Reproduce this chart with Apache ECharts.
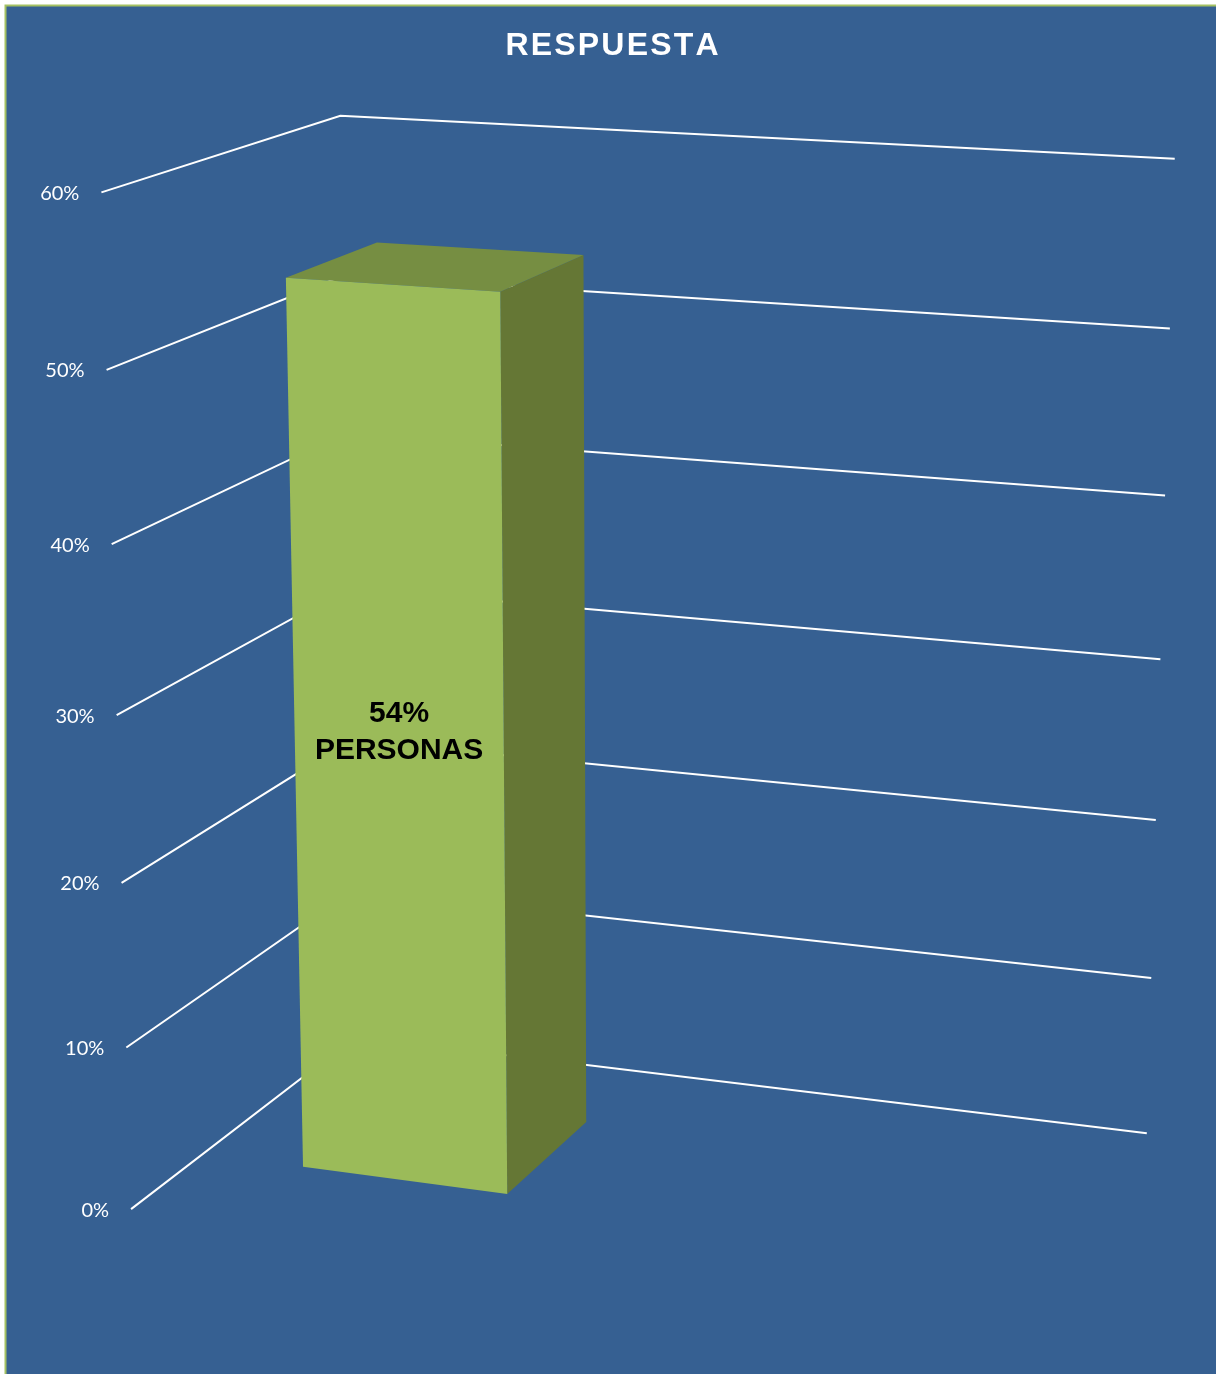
<!DOCTYPE html>
<html>
<head>
<meta charset="utf-8">
<script src="https://cdn.jsdelivr.net/npm/echarts@6/dist/echarts.min.js"></script>
<style>
  html, body { margin: 0; padding: 0; background: #ffffff; }
  #chart { width: 1216px; height: 1374px; }
</style>
</head>
<body>
<div id="chart"></div>
<script>
// ---- data ----
const categories = ['PERSONAS'];
const values = [0.54];
const tickValues = [0, 0.1, 0.2, 0.3, 0.4, 0.5, 0.6];
const tickLabels = ['0%', '10%', '20%', '30%', '40%', '50%', '60%'];
const titleText = 'RESPUESTA';

const AXIS_MIN = 0;
const AXIS_MAX = 0.6;

// ---- 3D view: world X runs along the back wall (0..1), Y is the value
// fraction of the axis (0..1), Z is depth (0 = back wall, 1 = front edge
// of the side wall). The camera is calibrated from the wall corners.
const WALL_ANCHORS = [
  // X, Y, Z, page x, page y
  [0, 1, 0, 340.0, 115.7],
  [1, 1, 0, 1174.7, 158.7],
  [1, 0, 0, 1146.7, 1133.3],
  [0, 0, 0, 355.7, 1036.8],
  [1, 5 / 6, 0, 1170.0, 328.7],
  [0, 1, 1, 101.7, 192.3],
  [0, 5 / 6, 1, 106.7, 370.0],
  [0, 1 / 6, 1, 126.0, 1047.3],
  [0, 0, 1, 131.0, 1209.3]
];

// column footprint on the floor, in world units
const BAR_X0 = 0.125, BAR_X1 = 0.375, BAR_Z0 = 0.30, BAR_Z1 = 0.70;

// least-squares fit of a 3x4 projection matrix (last entry fixed to 1)
function fitCamera(pts) {
  const S = 1000;
  const n = 11;
  const M = Array.from({ length: n }, () => new Array(n + 1).fill(0));
  function addRow(row, rhs) {
    for (let i = 0; i < n; i++) {
      for (let j = 0; j < n; j++) M[i][j] += row[i] * row[j];
      M[i][n] += row[i] * rhs;
    }
  }
  pts.forEach(([X, Y, Z, u0, v0]) => {
    const u = u0 / S, v = v0 / S;
    addRow([X, Y, Z, 1, 0, 0, 0, 0, -u * X, -u * Y, -u * Z], u);
    addRow([0, 0, 0, 0, X, Y, Z, 1, -v * X, -v * Y, -v * Z], v);
  });
  for (let c = 0; c < n; c++) {
    let p = c;
    for (let r = c + 1; r < n; r++) if (Math.abs(M[r][c]) > Math.abs(M[p][c])) p = r;
    [M[c], M[p]] = [M[p], M[c]];
    for (let r = 0; r < n; r++) {
      if (r === c) continue;
      const f = M[r][c] / M[c][c];
      for (let k = c; k <= n; k++) M[r][k] -= f * M[c][k];
    }
  }
  return { m: M.map((row, i) => row[n] / row[i]), S };
}

const cam = fitCamera(WALL_ANCHORS);

function project(X, Y, Z) {
  const m = cam.m;
  const w = m[8] * X + m[9] * Y + m[10] * Z + 1;
  return [
    cam.S * (m[0] * X + m[1] * Y + m[2] * Z + m[3]) / w,
    cam.S * (m[4] * X + m[5] * Y + m[6] * Z + m[7]) / w
  ];
}

// value -> fraction of the axis range, read through the axis scale
function heightFraction(api, catIndex, v) {
  const y0 = api.coord([catIndex, AXIS_MIN])[1];
  const y1 = api.coord([catIndex, AXIS_MAX])[1];
  const y = api.coord([catIndex, v])[1];
  return (y0 - y) / (y0 - y1);
}

// spaced-out title, laid out letter by letter
function spacedTitle(text, cx, cy, font, spacing) {
  const ctx = document.createElement('canvas').getContext('2d');
  ctx.font = font;
  const widths = Array.from(text).map(ch => ctx.measureText(ch).width);
  const total = widths.reduce((a, b) => a + b, 0) + spacing * (widths.length - 1);
  let x = cx - total / 2;
  return Array.from(text).map((ch, i) => {
    const el = {
      type: 'text', x: x, y: cy, z: 10,
      style: { text: ch, fill: '#ffffff', font: font, align: 'left', verticalAlign: 'middle' }
    };
    x += widths[i] + spacing;
    return el;
  });
}

const TITLE_FONT = 'bold 32px "Liberation Sans"';

const chart = echarts.init(document.getElementById('chart'), null, { renderer: 'canvas' });

chart.setOption({
  animation: false,
  backgroundColor: '#ffffff',
  graphic: [
    {
      type: 'rect',
      z: -10,
      shape: { x: 5.5, y: 5.5, width: 1300, height: 1500 },
      style: { fill: '#366092', stroke: '#a4c162', lineWidth: 2 }
    },
    {
      type: 'group',
      children: spacedTitle(titleText, 612, 46, TITLE_FONT, 2.2)
    }
  ],
  grid: { left: 100, right: 100, top: 100, bottom: 100 },
  xAxis: { type: 'category', data: categories, show: false },
  yAxis: { type: 'value', min: AXIS_MIN, max: AXIS_MAX, interval: 0.1, show: false },
  series: [
    {
      // walls: one polyline per tick, running from the front of the side
      // wall to the back corner and across the back wall
      type: 'custom',
      name: 'walls',
      clip: false,
      z: 1,
      silent: true,
      data: tickValues.map(v => [0, v]),
      renderItem: function (params, api) {
        const t = heightFraction(api, 0, api.value(1));
        const a = project(0, t, 1), b = project(0, t, 0), c = project(1, t, 0);
        return {
          type: 'group',
          children: [
            { type: 'polyline', shape: { points: [a, b, c] }, style: { stroke: '#ffffff', lineWidth: 2, fill: null } },
            {
              type: 'text', x: a[0] - 22, y: a[1] + 1,
              style: { text: tickLabels[params.dataIndex], fill: '#ffffff', fontSize: 20, fontFamily: 'Lato', align: 'right', verticalAlign: 'middle' }
            }
          ]
        };
      }
    },
    {
      type: 'custom',
      name: 'RESPUESTA',
      clip: false,
      z: 5,
      data: values.map((v, i) => [i, v]),
      renderItem: function (params, api) {
        const i = api.value(0), v = api.value(1);
        const t = heightFraction(api, i, v);
        const ftl = project(BAR_X0, t, BAR_Z1), ftr = project(BAR_X1, t, BAR_Z1);
        const fbl = project(BAR_X0, 0, BAR_Z1), fbr = project(BAR_X1, 0, BAR_Z1);
        const btl = project(BAR_X0, t, BAR_Z0), btr = project(BAR_X1, t, BAR_Z0), bbr = project(BAR_X1, 0, BAR_Z0);
        // label sits at the middle of the front face
        const cx = (ftl[0] + ftr[0] + fbl[0] + fbr[0]) / 4;
        const cy = (ftl[1] + ftr[1] + fbl[1] + fbr[1]) / 4;
        const label = Math.round(v * 100) + '%\n' + categories[i];
        return {
          type: 'group',
          children: [
            { type: 'polygon', shape: { points: [ftr, btr, bbr, fbr] }, style: { fill: '#657735' } },
            { type: 'polygon', shape: { points: [ftl, btl, btr, ftr] }, style: { fill: '#768e42' } },
            { type: 'polygon', shape: { points: [ftl, ftr, fbr, fbl] }, style: { fill: '#9bbb59' } },
            {
              type: 'text', x: cx, y: cy,
              style: { text: label, fill: '#000000', fontSize: 30, fontWeight: 'bold', fontFamily: 'Liberation Sans', align: 'center', verticalAlign: 'middle', lineHeight: 37 }
            }
          ]
        };
      }
    }
  ]
});
</script>
</body>
</html>
